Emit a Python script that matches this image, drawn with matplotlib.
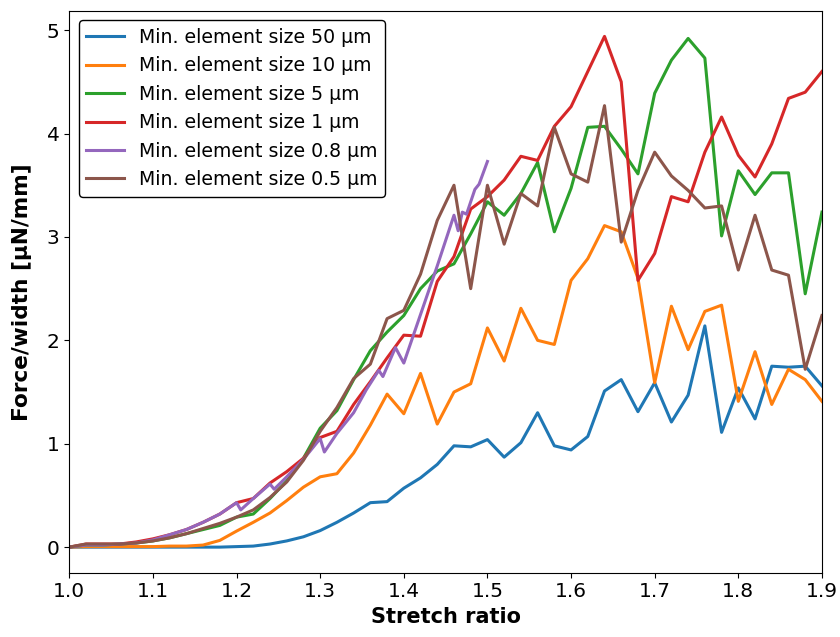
import matplotlib
matplotlib.use("Agg")
import matplotlib.pyplot as plt
import numpy as np

# stretch ratio grid used by most runs
stretch = np.round(np.arange(1.0, 1.901, 0.02), 2)

force_50um = [0.0, 0.0, 0.0, 0.0, 0.0, 0.0, 0.0, 0.0, 0.0, 0.0, 0.005,
              0.01, 0.03, 0.06, 0.10, 0.16, 0.24, 0.33, 0.43, 0.44, 0.57,
              0.67, 0.80, 0.98, 0.97, 1.04, 0.87, 1.01, 1.30, 0.98, 0.94,
              1.07, 1.51, 1.62, 1.31, 1.59, 1.21, 1.47, 2.14, 1.11, 1.54,
              1.24, 1.75, 1.74, 1.75, 1.56]

force_10um = [0.0, 0.005, 0.005, 0.005, 0.005, 0.005, 0.01, 0.01, 0.02, 0.065, 0.155,
              0.24, 0.33, 0.45, 0.58, 0.68, 0.71, 0.91, 1.18, 1.48, 1.29,
              1.68, 1.19, 1.50, 1.58, 2.12, 1.80, 2.31, 2.00, 1.96, 2.58,
              2.79, 3.11, 3.05, 2.60, 1.59, 2.33, 1.91, 2.28, 2.34, 1.41,
              1.89, 1.38, 1.72, 1.62, 1.41]

force_5um = [0.0, 0.02, 0.02, 0.03, 0.04, 0.06, 0.09, 0.13, 0.17, 0.21, 0.29,
             0.32, 0.47, 0.64, 0.86, 1.15, 1.32, 1.62, 1.90, 2.08, 2.24,
             2.50, 2.67, 2.74, 3.03, 3.34, 3.21, 3.42, 3.72, 3.05, 3.47,
             4.06, 4.07, 3.85, 3.61, 4.39, 4.71, 4.92, 4.73, 3.01, 3.64,
             3.41, 3.62, 3.62, 2.45, 3.24]

force_1um = [0.0, 0.03, 0.03, 0.03, 0.05, 0.08, 0.12, 0.17, 0.24, 0.32, 0.43,
             0.47, 0.62, 0.73, 0.86, 1.06, 1.12, 1.38, 1.60, 1.83, 2.05,
             2.04, 2.57, 2.81, 3.27, 3.39, 3.55, 3.78, 3.74, 4.07, 4.26,
             4.60, 4.94, 4.50, 2.58, 2.84, 3.39, 3.34, 3.82, 4.16, 3.79,
             3.58, 3.90, 4.34, 4.40, 4.60]

force_05um = [0.0, 0.03, 0.03, 0.03, 0.04, 0.06, 0.09, 0.13, 0.18, 0.23, 0.29,
              0.36, 0.48, 0.63, 0.84, 1.12, 1.35, 1.63, 1.77, 2.21, 2.29,
              2.64, 3.16, 3.50, 2.50, 3.50, 2.93, 3.42, 3.30, 4.06, 3.61,
              3.53, 4.27, 2.95, 3.45, 3.82, 3.59, 3.45, 3.28, 3.30, 2.68,
              3.21, 2.68, 2.63, 1.72, 2.24]

# the 0.8 um run stops at 1.5 and was saved on its own (finer) steps
stretch_08um = [1.00, 1.02, 1.04, 1.06, 1.08, 1.10, 1.12, 1.14, 1.16, 1.18,
                1.20, 1.205, 1.22, 1.24, 1.245, 1.26, 1.28, 1.30, 1.305, 1.32,
                1.34, 1.355, 1.37, 1.375, 1.39, 1.40, 1.42, 1.44, 1.46, 1.465,
                1.47, 1.475, 1.485, 1.49, 1.50]
force_08um = [0.0, 0.02, 0.02, 0.03, 0.04, 0.07, 0.12, 0.17, 0.24, 0.32,
              0.43, 0.36, 0.47, 0.61, 0.56, 0.68, 0.85, 1.05, 0.92, 1.10,
              1.30, 1.52, 1.71, 1.65, 1.93, 1.78, 2.25, 2.72, 3.21, 3.06,
              3.24, 3.22, 3.46, 3.51, 3.73]

labels = ["Min. element size 50 µm", "Min. element size 10 µm",
          "Min. element size 5 µm", "Min. element size 1 µm",
          "Min. element size 0.8 µm", "Min. element size 0.5 µm"]

fig = plt.figure(figsize=(8.4, 6.37), dpi=100)
ax = fig.add_axes([0.0825, 0.101, 0.896, 0.882])

ax.plot(stretch, force_50um, color="tab:blue", lw=2.2, label=labels[0])
ax.plot(stretch, force_10um, color="tab:orange", lw=2.2, label=labels[1])
ax.plot(stretch, force_5um, color="tab:green", lw=2.2, label=labels[2])
ax.plot(stretch, force_1um, color="tab:red", lw=2.2, label=labels[3])
ax.plot(stretch_08um, force_08um, color="tab:purple", lw=2.2, label=labels[4])
ax.plot(stretch, force_05um, color="tab:brown", lw=2.2, label=labels[5])

ax.set_xlim(1.0, 1.9)
ax.set_xlabel("Stretch ratio", fontsize=15, fontweight="bold")
ax.set_ylabel("Force/width [µN/mm]", fontsize=15.6, fontweight="bold")
ax.yaxis.set_label_coords(-0.05, 0.5)
ax.tick_params(labelsize=14.5)

leg = ax.legend(loc="upper left", fontsize=13.6, framealpha=1)
leg.get_frame().set_edgecolor("black")

fig.savefig("out.png", dpi=100)
